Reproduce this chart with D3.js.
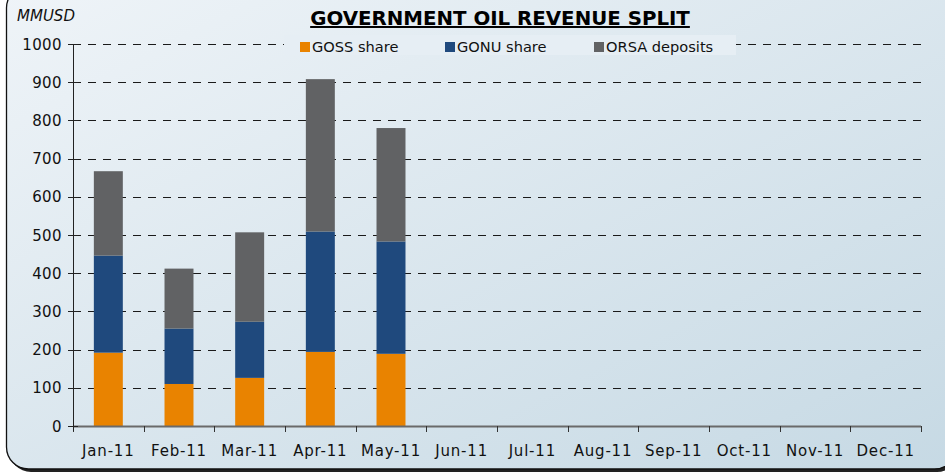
<!DOCTYPE html>
<html>
<head>
<meta charset="utf-8">
<script src="https://cdn.jsdelivr.net/npm/d3@7"></script>
<style>
  html, body { margin: 0; padding: 0; background: #fff; }
  svg { display: block; }
</style>
</head>
<body>
<svg id="chart" width="945" height="473"></svg>
<script>
const months = ['Jan-11', 'Feb-11', 'Mar-11', 'Apr-11', 'May-11', 'Jun-11',
  'Jul-11', 'Aug-11', 'Sep-11', 'Oct-11', 'Nov-11', 'Dec-11']
const goss = [192, 110, 126, 194, 189, 0, 0, 0, 0, 0, 0, 0]
const gonu = [254, 145, 147, 315, 294, 0, 0, 0, 0, 0, 0, 0]
const orsa = [221, 157, 234, 399, 297, 0, 0, 0, 0, 0, 0, 0]
const seriesNames = ['GOSS share', 'GONU share', 'ORSA deposits']
const seriesColors = ['#e98300', '#1f497d', '#616264']
const yTicks = [0, 100, 200, 300, 400, 500, 600, 700, 800, 900, 1000]

const font = 'DejaVu Sans'
const svg = d3.select('#chart')

// background + frame
const defs = svg.append('defs')
const grad = defs.append('linearGradient')
  .attr('id', 'bg').attr('x1', '0%').attr('y1', '0%').attr('x2', '100%').attr('y2', '100%')
grad.append('stop').attr('offset', '0%').attr('stop-color', '#eff4f8')
grad.append('stop').attr('offset', '100%').attr('stop-color', '#c6d9e4')

svg.append('rect').attr('x', 0).attr('y', 0).attr('width', 945).attr('height', 473).attr('fill', '#fff')
svg.append('rect')
  .attr('x', 9).attr('y', -12).attr('width', 950).attr('height', 484)
  .attr('rx', 22).attr('fill', '#222')
svg.append('rect')
  .attr('x', 6.5).attr('y', -14).attr('width', 950).attr('height', 483)
  .attr('rx', 22).attr('fill', 'url(#bg)').attr('stroke', '#111').attr('stroke-width', 1.3)

const margin = { left: 73, top: 44 }

const g = svg.append('g').attr('transform', `translate(${margin.left},${margin.top})`)

const x = d3.scaleBand().domain(months).range([0, 848]).paddingInner(0.59).paddingOuter(0.295)
const xb = d3.scaleBand().domain(months).range([0, 848])
const y = d3.scaleLinear().domain([0, 1000]).range([382, 0])

// gridlines
g.append('g').selectAll('line').data(yTicks.filter(d => d > 0)).join('line')
  .attr('x1', 0).attr('x2', 848)
  .attr('y1', d => Math.round(y(d)) + 0.5).attr('y2', d => Math.round(y(d)) + 0.5)
  .attr('stroke', '#1a1a1a').attr('stroke-width', 1)
  .attr('stroke-dasharray', '8,7')

// stacked bars
const rows = months.map((m, i) => ({ month: m, goss: goss[i], gonu: gonu[i], orsa: orsa[i] }))
const stack = d3.stack().keys(['goss', 'gonu', 'orsa'])(rows)
g.append('g').selectAll('g').data(stack).join('g')
  .attr('fill', (_, i) => seriesColors[i])
  .selectAll('rect').data(d => d).join('rect')
  .attr('x', d => x(d.data.month))
  .attr('width', x.bandwidth())
  .attr('y', d => y(d[1]))
  .attr('height', d => y(d[0]) - y(d[1]))

// x axis
const xAxis = g.append('g').attr('transform', `translate(0,${y(0)})`)
xAxis.append('line').attr('x1', 0).attr('x2', 848).attr('y1', 0.5).attr('y2', 0.5)
  .attr('stroke', '#6a6a6a').attr('stroke-width', 2)
xAxis.selectAll('line.tick').data(d3.range(13)).join('line')
  .attr('class', 'tick')
  .attr('x1', i => Math.round(i * xb.step()) + 0.5).attr('x2', i => Math.round(i * xb.step()) + 0.5)
  .attr('y1', 0).attr('y2', 6)
  .attr('stroke', '#333')
xAxis.selectAll('text').data(months).join('text')
  .attr('x', d => xb(d) + xb.bandwidth() / 2)
  .attr('y', 30)
  .attr('text-anchor', 'middle')
  .attr('font-family', font).attr('font-size', 15).attr('letter-spacing', 0.8).attr('fill', '#111')
  .text(d => d)

// y axis
const yAxis = g.append('g')
yAxis.append('line').attr('x1', 0.5).attr('x2', 0.5).attr('y1', 0).attr('y2', y(0) + 5)
  .attr('stroke', '#222')
yAxis.selectAll('line.tick').data(yTicks).join('line')
  .attr('class', 'tick')
  .attr('x1', -5).attr('x2', 5)
  .attr('y1', d => Math.round(y(d)) + 0.5).attr('y2', d => Math.round(y(d)) + 0.5)
  .attr('stroke', '#222')
yAxis.selectAll('text').data(yTicks).join('text')
  .attr('x', -11)
  .attr('y', d => y(d) + 5.5)
  .attr('text-anchor', 'end')
  .attr('font-family', font).attr('font-size', 15).attr('letter-spacing', 0.4).attr('fill', '#111')
  .text(d => d)

// unit label
svg.append('text').attr('x', 17).attr('y', 21)
  .attr('font-family', font).attr('font-size', 15).attr('font-style', 'italic').attr('fill', '#111')
  .text('MMUSD')

// title
svg.append('text').attr('x', 500).attr('y', 25)
  .attr('text-anchor', 'middle')
  .attr('font-family', font).attr('font-size', 19.8).attr('font-weight', 'bold').attr('fill', '#000')
  .attr('text-decoration', 'underline')
  .text('GOVERNMENT OIL REVENUE SPLIT')

// legend
const legendX = [300, 445, 594]
svg.append('rect').attr('x', 284).attr('y', 35).attr('width', 452).attr('height', 20)
  .attr('fill', '#e6eef4')
const legend = svg.append('g').selectAll('g').data(seriesNames).join('g')
  .attr('transform', (_, i) => `translate(${legendX[i]},42)`)
legend.append('rect').attr('width', 10).attr('height', 10).attr('fill', (_, i) => seriesColors[i])
legend.append('text').attr('x', 12).attr('y', 10)
  .attr('font-family', font).attr('font-size', 14.6).attr('fill', '#111')
  .text(d => d)
</script>
</body>
</html>
